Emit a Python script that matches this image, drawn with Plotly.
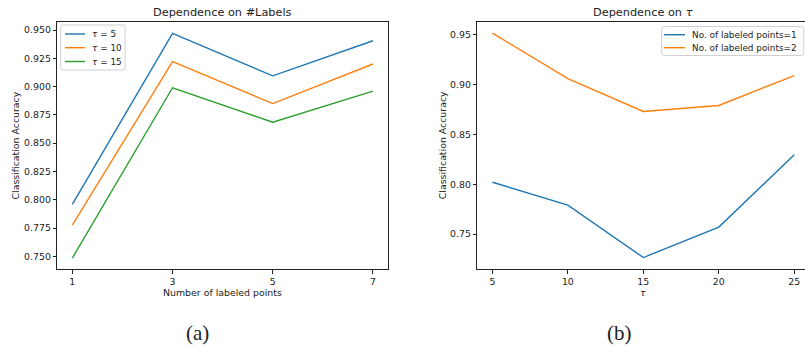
import plotly.graph_objects as go

# ---- data: panel (a) ----
labels_x = [1, 3, 5, 7]
tau5 = [0.796, 0.947, 0.9095, 0.9405]
tau10 = [0.7775, 0.922, 0.885, 0.920]
tau15 = [0.7485, 0.899, 0.8685, 0.896]
a_names = ["<i>τ</i> = 5", "<i>τ</i> = 10", "<i>τ</i> = 15"]
a_yticks = [0.750, 0.775, 0.800, 0.825, 0.850, 0.875, 0.900, 0.925, 0.950]

# ---- data: panel (b) ----
tau_x = [5, 10, 15, 20, 25]
pts1 = [0.802, 0.779, 0.7265, 0.757, 0.8295]
pts2 = [0.9515, 0.906, 0.873, 0.879, 0.909]
b_names = ["No. of labeled points=1", "No. of labeled points=2"]
b_yticks = [0.75, 0.80, 0.85, 0.90, 0.95]

C = ["#1f77b4", "#ff7f0e", "#2ca02c"]
W, H = 805, 347
FONT = "DejaVu Sans"
FS = 9.4
LFS = 8.9
LW = 1.4

fig = go.Figure()
for ys, nm, c in zip([tau5, tau10, tau15], a_names, C):
    fig.add_trace(go.Scatter(x=labels_x, y=ys, name=nm, mode="lines",
                             line=dict(color=c, width=LW), xaxis="x", yaxis="y",
                             showlegend=False))
for ys, nm, c in zip([pts1, pts2], b_names, C):
    fig.add_trace(go.Scatter(x=tau_x, y=ys, name=nm, mode="lines",
                             line=dict(color=c, width=LW), xaxis="x2", yaxis="y2",
                             showlegend=False))

def py(p):
    return 1 - p / H

def px(p):
    return p / W

ydom = [py(269), py(22)]
axis_common = dict(showline=True, linecolor="#222", linewidth=1, ticks="outside",
                   ticklen=3.5, tickwidth=0.8, tickcolor="#222", showgrid=False,
                   zeroline=False, tickfont=dict(family=FONT, size=FS, color="#222"))

fig.update_layout(
    width=W, height=H, margin=dict(l=0, r=0, t=0, b=0),
    paper_bgcolor="white", plot_bgcolor="white",
    xaxis=dict(domain=[px(57.3), px(388)], range=[0.7, 7.3], tickvals=labels_x,
               mirror=True, anchor="y", **axis_common),
    yaxis=dict(domain=ydom, range=[0.7388, 0.9571], tickvals=a_yticks,
               tickformat=".3f", mirror=True, anchor="x", **axis_common),
    xaxis2=dict(domain=[px(477.3), 1.0], range=[4.0, 25.71], tickvals=tau_x,
                mirror=True, anchor="y2", **axis_common),
    yaxis2=dict(domain=ydom, range=[0.715, 0.9627], tickvals=b_yticks,
                tickformat=".2f", anchor="x2", **axis_common),
    showlegend=False,
)

ann = []
shapes = []

def A(text, x, y, size, rot=0, fam=FONT, xanchor="center"):
    ann.append(dict(text=text, x=px(x), y=py(y), xref="paper", yref="paper",
                    xanchor=xanchor, yanchor="middle", showarrow=False,
                    textangle=rot, font=dict(family=fam, size=size, color="#222")))

def legend_box(x0, y0, x1, y1, r=2.5):
    p = (f"M {px(x0 + r)},{py(y0)} L {px(x1 - r)},{py(y0)} "
         f"Q {px(x1)},{py(y0)} {px(x1)},{py(y0 + r)} L {px(x1)},{py(y1 - r)} "
         f"Q {px(x1)},{py(y1)} {px(x1 - r)},{py(y1)} L {px(x0 + r)},{py(y1)} "
         f"Q {px(x0)},{py(y1)} {px(x0)},{py(y1 - r)} L {px(x0)},{py(y0 + r)} "
         f"Q {px(x0)},{py(y0)} {px(x0 + r)},{py(y0)} Z")
    shapes.append(dict(type="path", path=p, xref="paper", yref="paper",
                       fillcolor="rgba(255,255,255,0.8)",
                       line=dict(color="#d0d0d0", width=1)))

def legend(names, colors, box, lx0, lx1, tx, rows):
    legend_box(*box)
    for nm, c, yy in zip(names, colors, rows):
        shapes.append(dict(type="line", xref="paper", yref="paper",
                           x0=px(lx0), x1=px(lx1), y0=py(yy), y1=py(yy),
                           line=dict(color=c, width=LW)))
        ann.append(dict(text=nm, x=px(tx), y=py(yy), xref="paper", yref="paper",
                        xanchor="left", yanchor="middle", showarrow=False,
                        borderpad=0, font=dict(family=FONT, size=LFS, color="#222")))

legend(a_names, C, (60.7, 25, 125, 70), 65, 85, 90.5, [34, 47.7, 61.5])
legend(b_names, C[:2], (661.7, 26.5, 803.8, 55.5), 663.8, 685, 690.5, [34.7, 47.7])

A("Dependence on #Labels", 222.7, 12.5, 11.3)
A("Dependence on <i>τ</i>", 643, 12.5, 11.3)
A("Number of labeled points", 222.7, 292, FS)
A("<i>τ</i>", 643, 292, FS)
A("Classification Accuracy", 15, 145.5, FS, rot=-90)
A("Classification Accuracy", 442.7, 145.5, FS, rot=-90)
A("(a)", 197, 333, 21, fam="Liberation Serif")
A("(b)", 619, 333, 21, fam="Liberation Serif")
fig.update_layout(annotations=ann, shapes=shapes)

fig.write_html("out.html")
